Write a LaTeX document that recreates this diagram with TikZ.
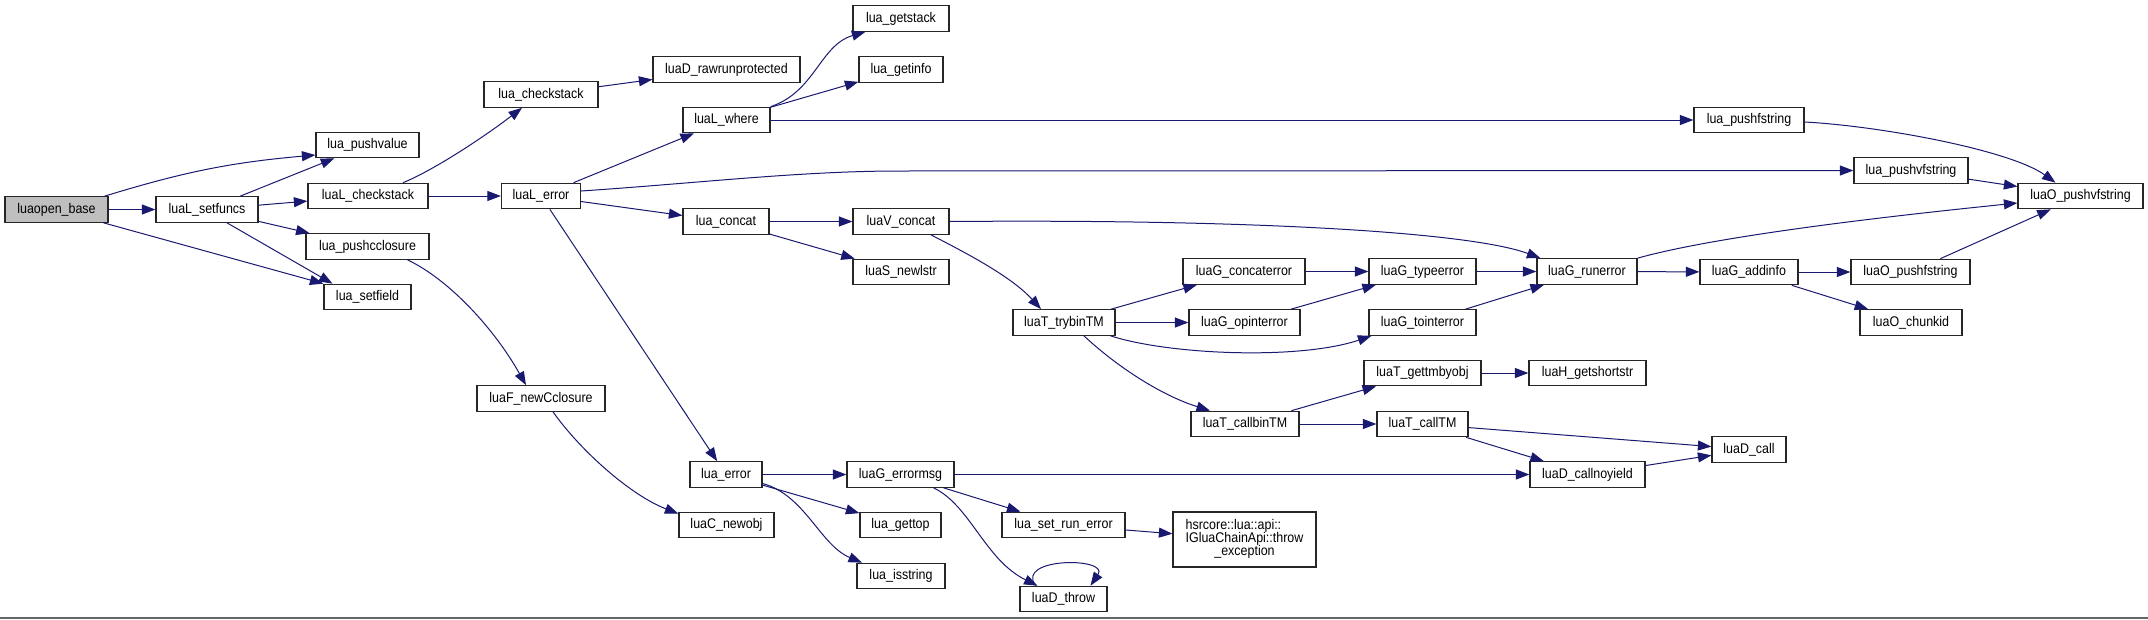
\documentclass[tikz,border=0pt]{standalone}
\usepackage{fontspec}
\setmainfont[FakeStretch=0.89]{Liberation Sans}
\usetikzlibrary{arrows.meta,positioning}
\definecolor{edgeblue}{HTML}{191970}
\definecolor{rootgray}{HTML}{BFBFBF}
\tikzset{
    fn/.style     = {rectangle, draw=black!85, line width=1.2pt, fill=white, inner xsep=0pt, inner ysep=0pt,
                     minimum height=25.5pt, font=\fontsize{14}{14}\selectfont},
    rootfn/.style = {fn, fill=rootgray},
    call/.style   = {-{Triangle[length=13.5pt,width=10pt]}, line width=1pt, draw=edgeblue}
}
\begin{document}
\begin{tikzpicture}[x=1pt, y=-1pt]
    \useasboundingbox (0,0) rectangle (2148,619);

    % Nodes (by column)
    \node[rootfn, minimum width=103pt] (base) at (56.5,209.5) {luaopen\_base};
    \node[fn, minimum width=102pt] (setfuncs) at (207,209.5) {luaL\_setfuncs};

    \node[fn, minimum width=103pt] (pushvalue) at (367.5,145) {lua\_pushvalue};
    \node[fn, minimum width=120pt] (Lchecks) at (368,196) {luaL\_checkstack};
    \node[fn, minimum width=123pt] (pushcc) at (367.5,246.5) {lua\_pushcclosure};
    \node[fn, minimum width=87pt] (setfield) at (367.5,297) {lua\_setfield};

    \node[fn, minimum width=114pt] (checkstack) at (541,94.5) {lua\_checkstack};
    \node[fn, minimum width=79pt] (Lerror) at (541,196) {luaL\_error};
    \node[fn, minimum width=128pt] (newCcl) at (541,398.5) {luaF\_newCclosure};

    \node[fn, minimum width=147pt] (rawrun) at (726.5,69.5) {luaD\_rawrunprotected};
    \node[fn, minimum width=87pt] (Lwhere) at (726.5,120) {luaL\_where};
    \node[fn, minimum width=86pt] (concat) at (726,221.5) {lua\_concat};
    \node[fn, minimum width=72pt] (error) at (726,474.5) {lua\_error};
    \node[fn, minimum width=95pt] (newobj) at (726.5,525) {luaC\_newobj};

    \node[fn, minimum width=96pt] (getstack) at (901,18.5) {lua\_getstack};
    \node[fn, minimum width=84pt] (getinfo) at (901,69.5) {lua\_getinfo};
    \node[fn, minimum width=96pt] (Vconcat) at (901,221.5) {luaV\_concat};
    \node[fn, minimum width=96pt] (newlstr) at (901,272) {luaS\_newlstr};
    \node[fn, minimum width=107pt] (errormsg) at (900.5,474.5) {luaG\_errormsg};
    \node[fn, minimum width=81pt] (gettop) at (900.5,525) {lua\_gettop};
    \node[fn, minimum width=88pt] (isstring) at (901,576) {lua\_isstring};

    \node[fn, minimum width=102pt] (trybin) at (1064,322.5) {luaT\_trybinTM};
    \node[fn, minimum width=123pt] (setrun) at (1063.5,525) {lua\_set\_run\_error};
    \node[fn, minimum width=87pt] (throw) at (1063.5,599) {luaD\_throw};

    \node[fn, minimum width=122pt] (concaterr) at (1244,271.5) {luaG\_concaterror};
    \node[fn, minimum width=111pt] (opinterr) at (1244.5,322.5) {luaG\_opinterror};
    \node[fn, minimum width=108pt] (callbin) at (1245,424) {luaT\_callbinTM};
    \node[fn, minimum width=143pt, minimum height=55pt] (hsrcore) at (1244.5,539.5)
        {\begin{tabular}{@{}l@{}}hsrcore::lua::api::\\[-1pt]IGluaChainApi::throw\\[-1pt]\multicolumn{1}{@{}c@{}}{\_exception}\end{tabular}};

    \node[fn, minimum width=107pt] (typeerr) at (1422.5,271.5) {luaG\_typeerror};
    \node[fn, minimum width=107pt] (tointerr) at (1422.5,322.5) {luaG\_tointerror};
    \node[fn, minimum width=117pt] (gettm) at (1422.5,373) {luaT\_gettmbyobj};
    \node[fn, minimum width=91pt] (callTM) at (1422.5,424) {luaT\_callTM};

    \node[fn, minimum width=100pt] (runerr) at (1587,271.5) {luaG\_runerror};
    \node[fn, minimum width=117pt] (getshort) at (1587.5,373) {luaH\_getshortstr};
    \node[fn, minimum width=115pt] (callnoy) at (1587.5,474.5) {luaD\_callnoyield};

    \node[fn, minimum width=110pt] (pushfstr) at (1749,120) {lua\_pushfstring};
    \node[fn, minimum width=98pt] (addinfo) at (1749,272) {luaG\_addinfo};
    \node[fn, minimum width=74pt] (Dcall) at (1749,449.5) {luaD\_call};

    \node[fn, minimum width=114pt] (pushvfstr) at (1911,170.5) {lua\_pushvfstring};
    \node[fn, minimum width=119pt] (Opushf) at (1910.5,272) {luaO\_pushfstring};
    \node[fn, minimum width=102pt] (chunkid) at (1911,322.5) {luaO\_chunkid};

    \node[fn, minimum width=125pt] (Opushvf) at (2080.5,196) {luaO\_pushvfstring};

    % Calls from luaopen_base / luaL_setfuncs
    \draw[call] ([xshift=-4pt]base.north east) to[bend left=6] ([yshift=-10pt]pushvalue.west);
    \draw[call] (base) -- (setfuncs);
    \draw[call] ([xshift=-5pt]base.south east) -- (setfield.north west);
    \draw[call] (setfuncs) -- (pushvalue);
    \draw[call] (setfuncs) -- (Lchecks);
    \draw[call] (setfuncs) -- (pushcc);
    \draw[call] ([xshift=20pt]setfuncs.south) -- ([xshift=-35pt]setfield.north);

    % Stack and closures
    \draw[call] ([xshift=35pt]Lchecks.north) .. controls (430,172) and (480,140) .. ([xshift=-19pt]checkstack.south);
    \draw[call] (Lchecks) -- (Lerror);
    \draw[call] (checkstack) -- (rawrun);
    \draw[call] ([xshift=40pt]pushcc.south) .. controls (450,280) and (495,330) .. ([xshift=-15pt]newCcl.north);
    \draw[call] ([xshift=12pt]newCcl.south) .. controls (580,450) and (630,495) .. ([yshift=-2pt]newobj.north west);

    % luaL_error
    \draw[call] (Lerror) -- (Lwhere);
    \draw[call] ([yshift=5pt]Lerror.east) .. controls (700,183) and (800,171) .. (900,171) -- (pushvfstr.west);
    \draw[call] (Lerror) -- (concat);
    \draw[call] (Lerror) -- (error);

    % luaL_where
    \draw[call] (Lwhere.north east) .. controls (815,92) and (820,45) .. ([xshift=13pt]getstack.south west);
    \draw[call] (Lwhere) -- (getinfo);
    \draw[call] (Lwhere) -- (pushfstr);
    \draw[call] ([yshift=-2pt]pushfstr.east) .. controls (1880,126) and (2010,150) .. ([xshift=-25pt]Opushvf.north);
    \draw[call] (pushvfstr) -- (Opushvf);

    % lua_concat
    \draw[call] (concat) -- (Vconcat);
    \draw[call] (concat) -- (newlstr);
    \draw[call] (Vconcat.east) .. controls (1250,219) and (1470,232) .. ([xshift=4pt]runerr.north west);
    \draw[call] ([xshift=30pt]Vconcat.south) .. controls (960,250) and (1010,275) .. ([xshift=-23pt]trybin.north);

    % luaT_trybinTM
    \draw[call] (trybin) -- (concaterr);
    \draw[call] (trybin) -- (opinterr);
    \draw[call] ([xshift=-5pt]trybin.south east) .. controls (1170,355) and (1300,360) .. ([xshift=3pt]tointerr.south west);
    \draw[call] ([xshift=20pt]trybin.south) .. controls (1115,365) and (1160,395) .. ([xshift=-35pt]callbin.north);
    \draw[call] (concaterr) -- (typeerr);
    \draw[call] (opinterr) -- (typeerr);
    \draw[call] (typeerr) -- (runerr);
    \draw[call] (tointerr) -- (runerr);

    % luaG_runerror
    \draw[call] (runerr.north east) .. controls (1720,235) and (1900,215) .. ([yshift=-7pt]Opushvf.west);
    \draw[call] (runerr) -- (addinfo);
    \draw[call] (addinfo) -- (Opushf);
    \draw[call] (addinfo) -- (chunkid);
    \draw[call] (Opushf) -- (Opushvf);

    % luaT_callbinTM
    \draw[call] (callbin) -- (gettm);
    \draw[call] (callbin) -- (callTM);
    \draw[call] (gettm) -- (getshort);
    \draw[call] (callTM) -- (Dcall);
    \draw[call] (callTM) -- (callnoy);
    \draw[call] (callnoy) -- (Dcall);

    % lua_error
    \draw[call] (error) -- (errormsg);
    \draw[call] (error) -- (gettop);
    \draw[call] ([yshift=-9pt]error.east) .. controls (805,495) and (820,545) .. ([xshift=-39pt]isstring.north);
    \draw[call] (errormsg) -- (callnoy);
    \draw[call] (errormsg) -- (setrun);
    \draw[call] ([xshift=33pt]errormsg.south) .. controls (970,505) and (985,560) .. ([xshift=-26pt]throw.north);
    \draw[call] (setrun) -- (hsrcore);
    \draw[call] ([xshift=-28pt]throw.north) .. controls (1015,557) and (1110,557) .. ([xshift=27pt]throw.north);

    % bottom rule
    \draw[draw=black!60, line width=2pt] (0,618) -- (2148,618);
\end{tikzpicture}
\end{document}
